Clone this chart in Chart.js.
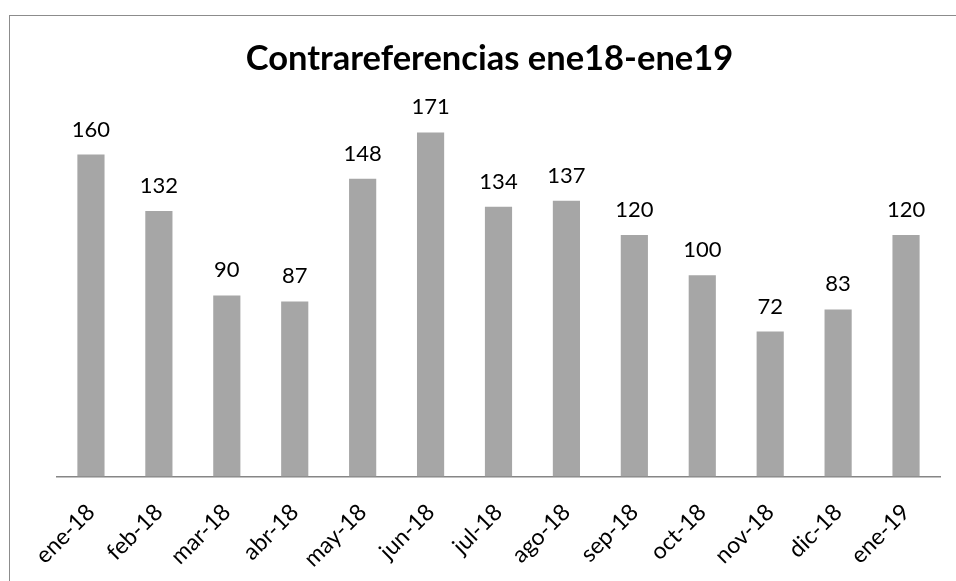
<!DOCTYPE html>
<html>
<head>
<meta charset="utf-8">
<script src="https://cdn.jsdelivr.net/npm/chart.js@4/dist/chart.umd.min.js"></script>
<style>
  html, body { margin: 0; padding: 0; background: #fff; }
  #wrap { width: 956px; height: 581px; position: relative; }
</style>
</head>
<body>
<div id="wrap"><canvas id="c" width="956" height="581"></canvas></div>
<script>
// data
var meses = ["ene-18", "feb-18", "mar-18", "abr-18", "may-18", "jun-18", "jul-18",
             "ago-18", "sep-18", "oct-18", "nov-18", "dic-18", "ene-19"];
var contrareferencias = [160, 132, 90, 87, 148, 171, 134, 137, 120, 100, 72, 83, 120];
var titulo = "Contrareferencias ene18-ene19";

var FONT = "Lato, 'Open Sans', sans-serif";

// outer frame like the spreadsheet chart box
var marco = {
	id: "marco",
	beforeDraw: function(chart) {
		var ctx = chart.ctx;
		ctx.save();
		ctx.strokeStyle = "#8c8c8c";
		ctx.lineWidth = 1;
		ctx.strokeRect(9.5, 15.5, 1000, 1000);
		ctx.restore();
	}
};

// value labels above each bar
var etiquetas = {
	id: "etiquetas",
	afterDatasetsDraw: function(chart) {
		var ctx = chart.ctx;
		var meta = chart.getDatasetMeta(0);
		ctx.save();
		ctx.font = "22px " + FONT;
		ctx.fillStyle = "#000";
		ctx.textAlign = "center";
		ctx.textBaseline = "alphabetic";
		meta.data.forEach(function(bar, i) {
			ctx.fillText("" + contrareferencias[i], bar.x, bar.y - 18);
		});
		ctx.restore();
	}
};

// hidden axis that only reserves room
function hueco(w) {
	return {
		display: true,
		grid: { display: false },
		border: { display: false },
		ticks: { display: false },
		afterFit: function(scale) { scale.width = w; }
	};
}

var yIzq = hueco(34);
yIzq.position = "left";
yIzq.min = 0;
yIzq.max = 200;

var yDer = hueco(16);
yDer.position = "right";
yDer.min = 0;
yDer.max = 200;

new Chart(document.getElementById("c").getContext("2d"), {
	type: "bar",
	data: {
		labels: meses,
		datasets: [{
			data: contrareferencias,
			backgroundColor: "#a6a6a6",
			borderWidth: 0,
			barPercentage: 0.4,
			categoryPercentage: 1.0,
			yAxisID: "y"
		}]
	},
	options: {
		responsive: false,
		animation: false,
		layout: { padding: { top: 43, left: 23, right: 0, bottom: 0 } },
		plugins: {
			legend: { display: false },
			tooltip: { enabled: false },
			title: {
				display: true,
				text: titulo,
				color: "#000",
				font: { family: FONT, size: 34.5, weight: "bold", lineHeight: 0.9 },
				padding: { top: 0, bottom: 0 }
			}
		},
		scales: {
			y: yIzq,
			y2: yDer,
			x: {
				grid: { display: false, drawTicks: false },
				border: { display: true, color: "#868686", width: 1.5 },
				ticks: {
					color: "#000",
					font: { family: FONT, size: 23 },
					minRotation: 45,
					maxRotation: 45,
					padding: 22
				},
				afterFit: function(scale) { scale.height = 104.5; }
			}
		}
	},
	plugins: [marco, etiquetas]
});
</script>
</body>
</html>
